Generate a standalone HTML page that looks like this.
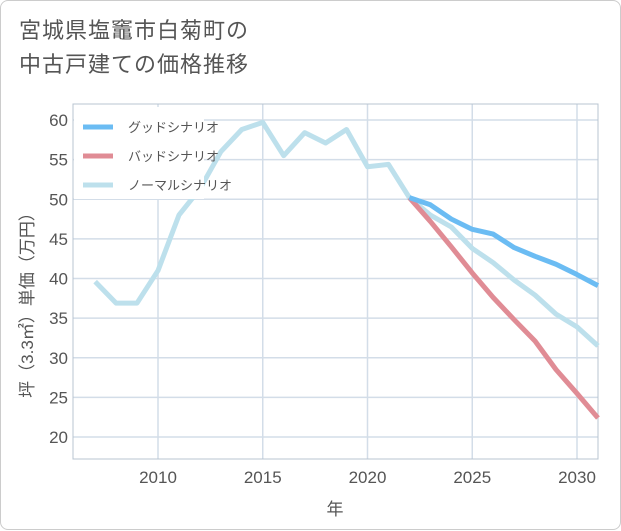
<!DOCTYPE html>
<html><head><meta charset="utf-8"><style>
body{margin:0;background:#fff}
#wrap{position:relative;width:619px;height:528px;border:1px solid #ccc;border-radius:8px;background:#fff;font-family:"Liberation Sans","Noto Sans CJK JP",sans-serif}
#title{position:absolute;left:18px;top:13px;font-size:22px;line-height:34px;color:#555;letter-spacing:1px}
svg{position:absolute;left:0;top:0}
text{font-family:"Liberation Sans","Noto Sans CJK JP",sans-serif}
</style></head><body>
<div id="wrap">
<div id="title">宮城県塩竈市白菊町の<br>中古戸建ての価格推移</div>
<svg id="chart" width="621" height="530"></svg>
</div>
<script>
const years=[2007,2008,2009,2010,2011,2012,2013,2014,2015,2016,2017,2018,2019,2020,2021,2022,2023,2024,2025,2026,2027,2028,2029,2030,2031];
const normalVals=[39.6,36.9,36.9,41,48,51.3,56,58.8,59.7,55.5,58.4,57.1,58.8,54.1,54.4,50.2,48,46.5,43.8,42,39.8,37.9,35.5,33.9,31.5];
const futureYears=[2022,2023,2024,2025,2026,2027,2028,2029,2030,2031];
const goodVals=[50.2,49.3,47.5,46.2,45.6,43.9,42.8,41.8,40.5,39.1];
const badVals=[50.2,47.2,44,40.7,37.6,34.8,32.1,28.5,25.5,22.4];
const xTicks=[2010,2015,2020,2025,2030];
const yTicks=[20,25,30,35,40,45,50,55,60];
const legendNames=["グッドシナリオ","バッドシナリオ","ノーマルシナリオ"];
const legendColors=["#6bbcf3","#e08c95","#bde0ec"];

const L=72,R=597,T=103,B=458;
const x=v=>157+(v-2010)*20.95;
const y=v=>436-(v-20)*7.925;
const svg=document.getElementById('chart');
const NS='http://www.w3.org/2000/svg';
function mk(tag,attrs){const e=document.createElementNS(NS,tag);for(const k in attrs)e.setAttribute(k,attrs[k]);svg.appendChild(e);return e;}

xTicks.forEach(t=>{
  const g=mk('line',{x1:x(t),x2:x(t),y1:T,y2:B,stroke:'#d3dde8','stroke-width':1.5});
  
  
  const tx=mk('text',{x:x(t),y:B+24,'text-anchor':'middle','font-size':17,fill:'#555'});
  tx.textContent=t;
  
  
});
yTicks.forEach(t=>{
  const g=mk('line',{x1:L,x2:R,y1:y(t),y2:y(t),stroke:'#d3dde8','stroke-width':1.5});
  
  
  const tx=mk('text',{x:L-5,y:y(t)+6,'text-anchor':'end','font-size':17,fill:'#555'});
  tx.textContent=t;
  
  
});
const frame=mk('rect',{x:L,y:T,width:R-L,height:B-T,fill:'none',stroke:'#b8c4d0','stroke-width':1});



function series(xs,vs,color,name){
  const p=mk('polyline',{points:xs.map((yr,i)=>x(yr)+','+y(vs[i])).join(' '),fill:'none',stroke:color,'stroke-width':5,'stroke-linejoin':'round'});
  
  
}
series(years,normalVals,legendColors[2],'normal-scenario-line');
series(futureYears,badVals,legendColors[1],'bad-scenario-line');
series(futureYears,goodVals,legendColors[0],'good-scenario-line');

const lb=mk('rect',{x:73,y:106,width:130,height:92,fill:'#fff'});


legendNames.forEach((n,i)=>{
  const yy=126+i*29;
  const l=mk('line',{x1:82,x2:112,y1:yy,y2:yy,stroke:legendColors[i],'stroke-width':5});
  
  
  const tx=mk('text',{x:127,y:yy+5,'font-size':13,fill:'#555'});
  tx.textContent=n;
  
  
});
const xt=mk('text',{x:334,y:514,'text-anchor':'middle','font-size':17,fill:'#555'});
xt.textContent='年';


const yt=mk('text',{x:0,y:0,'text-anchor':'middle','font-size':17,fill:'#555',transform:'translate(32,300) rotate(-90)'});
yt.textContent='坪（3.3㎡）単価（万円）';


</script>
</body></html>
